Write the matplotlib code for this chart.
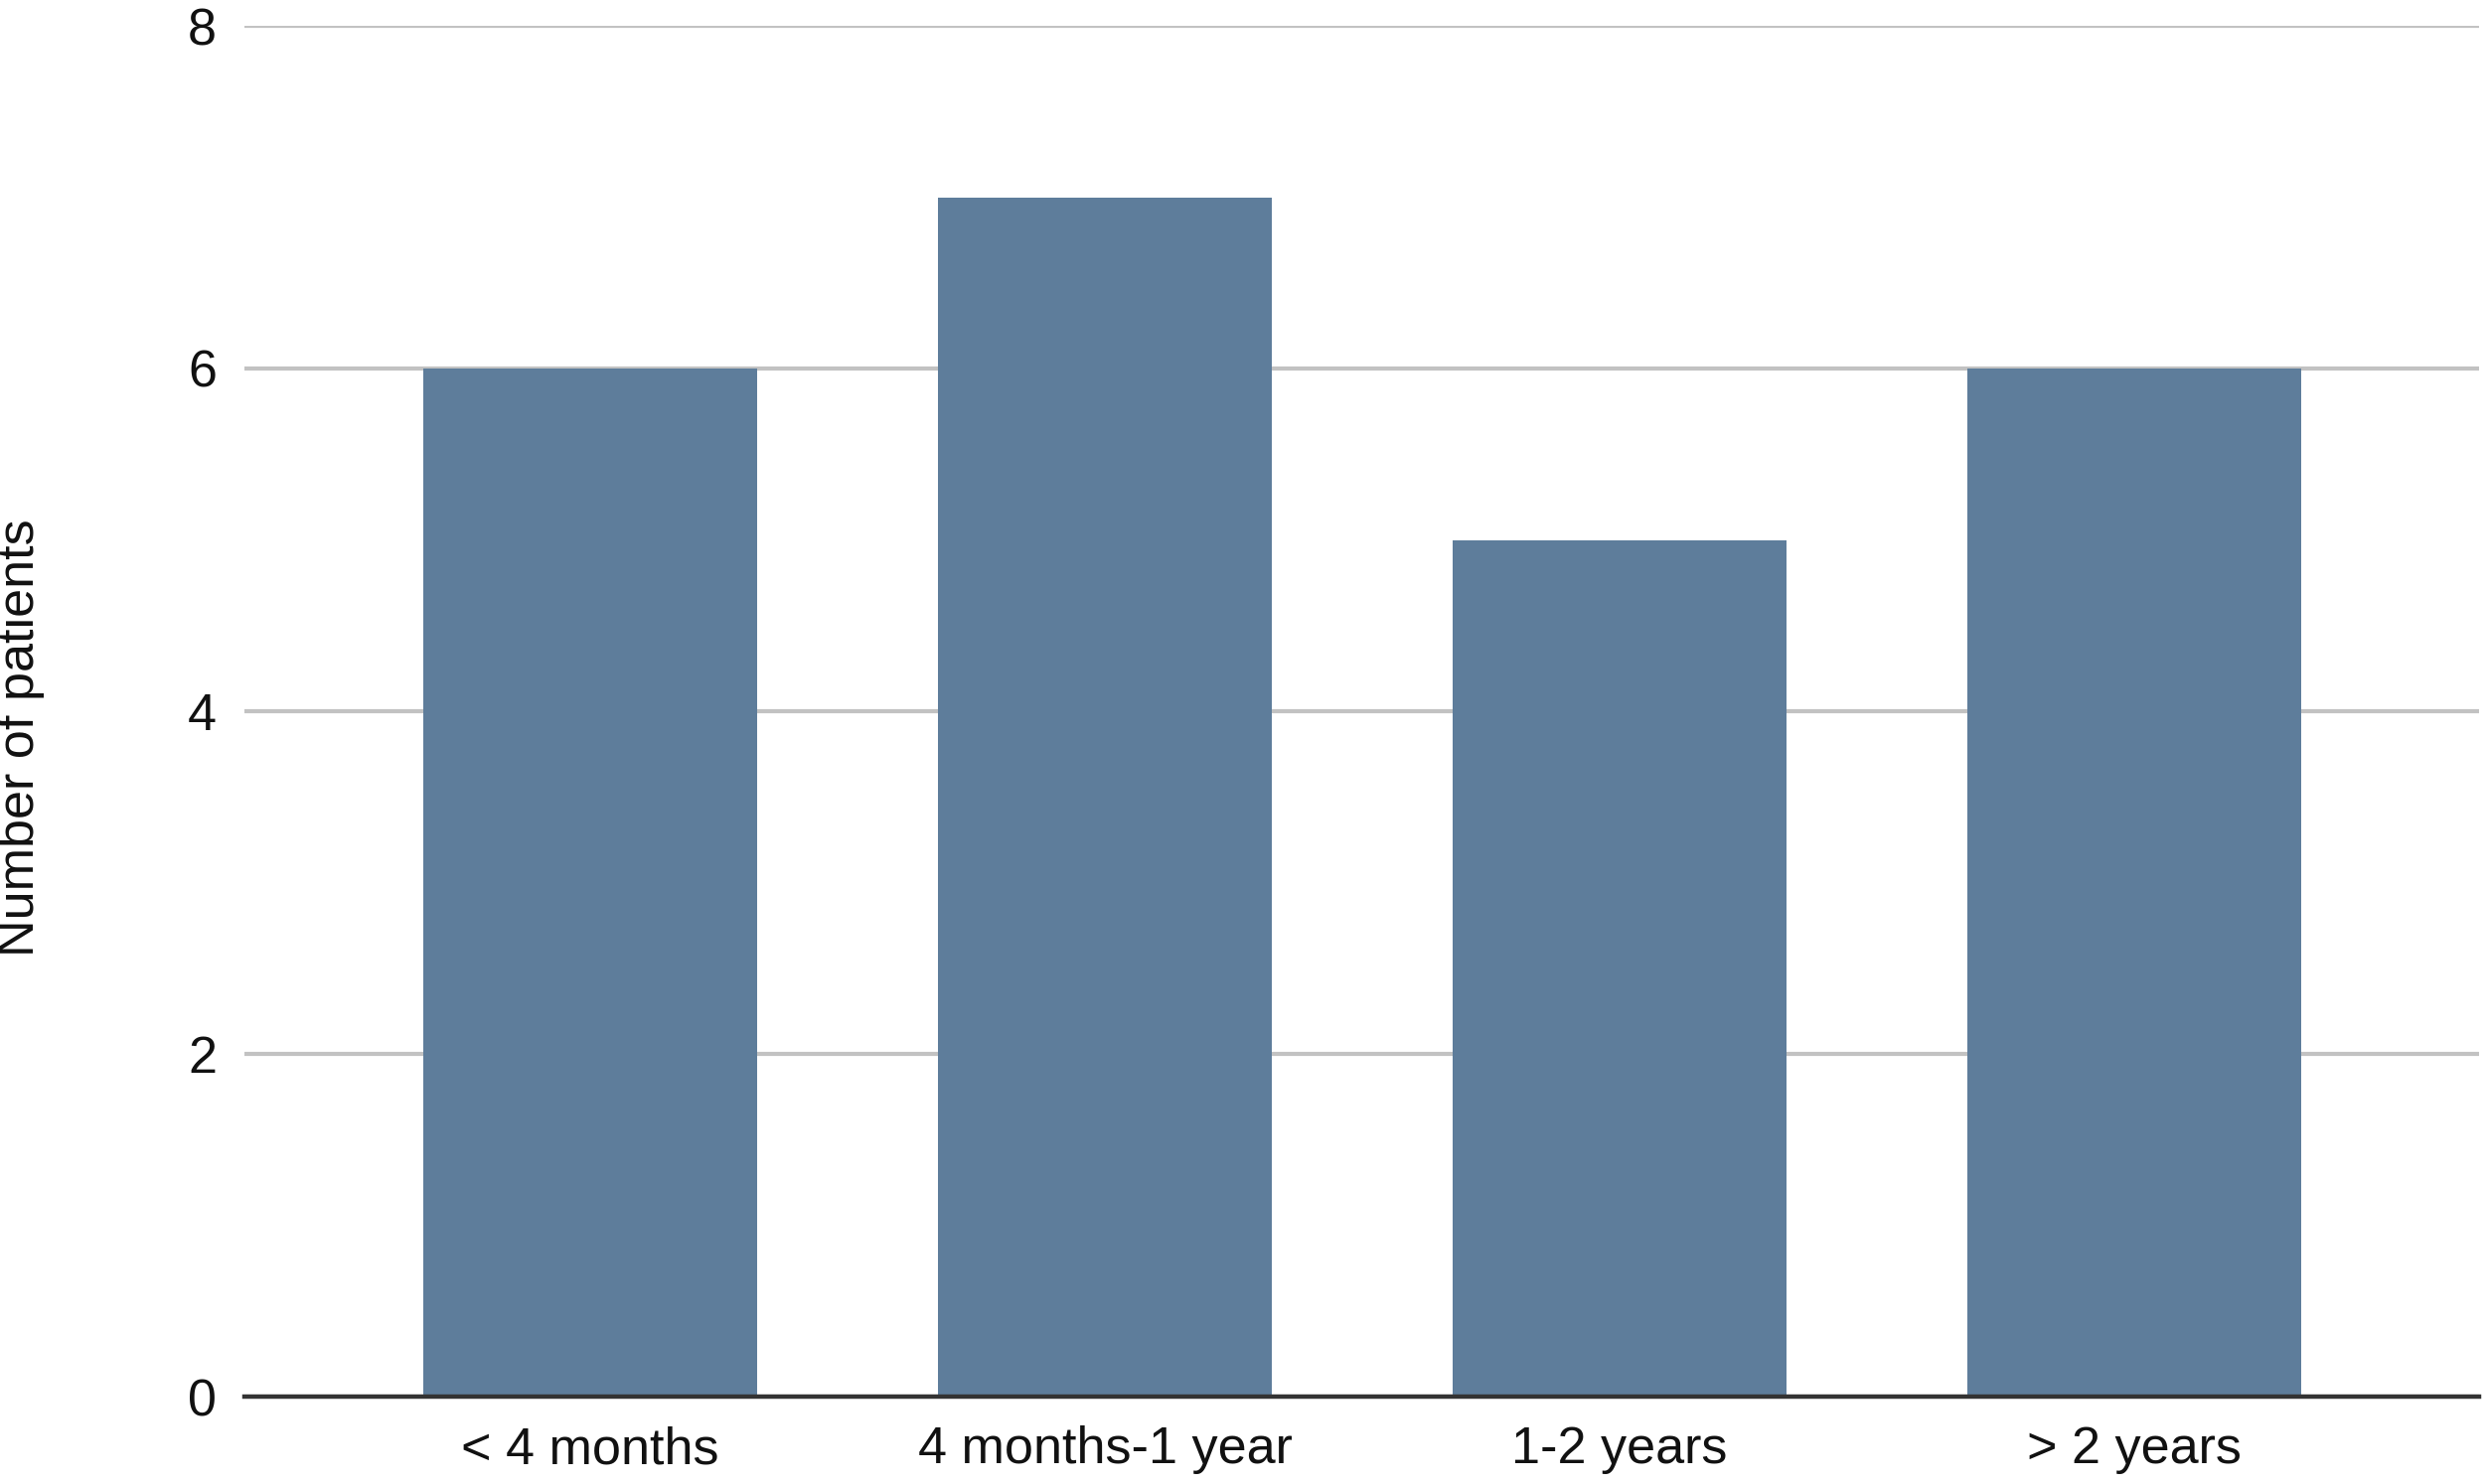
import matplotlib
matplotlib.use("Agg")
import matplotlib.pyplot as plt

categories = ["< 4 months", "4 months-1 year", "1-2 years", "> 2 years"]
patients = [6, 7, 5, 6]
yticks = [0, 2, 4, 6, 8]

plt.rcParams['font.family'] = ['Liberation Sans', 'DejaVu Sans']

fig = plt.figure(figsize=(25.03, 14.94), dpi=100)
ax = fig.add_axes([246/2503, 1 - 1406/1494, (2495 - 246)/2503, (1406 - 26)/1494])

x = list(range(len(categories)))
ax.bar(x, patients, width=0.65, color="#5E7D9B", zorder=3)

ax.set_xlim(-0.672, 3.670)
ax.set_ylim(0, 8)
ax.set_yticks(yticks)
ax.set_yticklabels([str(t) for t in yticks])
ax.set_xticks(x)
ax.set_xticklabels(categories)

ax.yaxis.grid(True, color="#C2C2C2", linewidth=3.0, zorder=1)
ax.xaxis.grid(False)
for s in ["top", "right", "left"]:
    ax.spines[s].set_visible(False)
ax.spines["bottom"].set_color("#333333")
ax.spines["bottom"].set_linewidth(3.2)
ax.spines["bottom"].set_zorder(4)

ax.tick_params(axis="both", length=0, labelsize=37.5, colors="#111111")
ax.tick_params(axis="y", pad=20)
ax.tick_params(axis="x", pad=21)

ax.set_ylabel("Number of patients", fontsize=37.5, color="#111111")
ax.yaxis.set_label_coords(-0.0894, 0.481)

fig.savefig("out.png", dpi=100, facecolor="white")
